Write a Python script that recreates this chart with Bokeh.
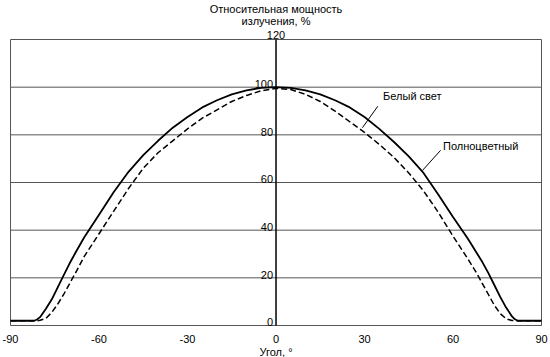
from bokeh.plotting import figure
from bokeh.models import Range1d
from bokeh.core.properties import value
from bokeh.embed import file_html
from bokeh.resources import INLINE

angles = [-90, -85, -82, -81, -80, -78, -76, -74, -72, -70, -68, -65, -60, -55, -50, -45, -40,
          -35, -30, -25, -20, -15, -10, -5, 0, 5, 10, 15, 20, 25, 30, 35, 40, 45, 50, 55,
          60, 65, 68, 70, 72, 74, 76, 78, 80, 81, 82, 85, 90]
full_color = [2, 2, 2, 2.5, 3.5, 7, 11, 16, 21, 26, 30.5, 37, 46.5, 56, 64.5, 71.5, 77.5,
              83, 87.5, 91.5, 94.5, 97, 98.7, 99.7, 100, 99.7, 98.7, 97, 94.5, 91.5, 87.5, 82.5, 77, 71, 64, 55,
              45.5, 36.5, 30.5, 26.5, 22, 17, 12, 7.5, 3.8, 2.6, 2, 2, 2]
white = [2, 2, 2, 2, 2.2, 3, 5.5, 9, 13, 17.5, 22, 29, 38.5, 48, 57.5, 66, 72.5,
         77.5, 82.5, 87, 90.5, 94, 96.5, 98.5, 99.5, 99, 97, 94, 90, 85.5, 81, 76, 70.5, 64, 56.5, 47.5,
         37.5, 28, 22, 17.5, 13, 8.5, 5, 2.8, 2.1, 2, 2, 2, 2]

x_ticks = [-90, -60, -30, 0, 30, 60, 90]
x_tick_labels = ["-90", "-60", "-30", "0", "30", "60", "90"]
y_ticks = [0, 20, 40, 60, 80, 100]
y_tick_labels = ["0", "20", "40", "60", "80", "100"]
y_top = 120
title_lines = ["Относительная мощность", "излучения, %"]
x_title = "Угол, °"
series_names = ["Белый свет", "Полноцветный"]

FONT = value("Liberation Sans")
FS = value("11px")
TXT = "#000000"
GRID = "#555555"

X0, X1 = -90, 90
# whole canvas is the plotting area; the chart box spans -90..90 x 0..120
p = figure(width=550, height=357, output_backend="svg", toolbar_location=None,
           x_axis_location=None, y_axis_location=None, title=None,
           x_range=Range1d(-93.4, 93.05), y_range=Range1d(-13.43, 136.37),
           min_border=0)
p.outline_line_color = None
p.grid.visible = False
p.background_fill_color = "white"
p.border_fill_color = "white"

# frame box and horizontal rules
h_levels = y_ticks + [y_top]
p.segment(x0=[X0] * len(h_levels), x1=[X1] * len(h_levels), y0=h_levels, y1=h_levels,
          line_color=GRID, line_width=1)
p.segment(x0=[X0, X1], x1=[X0, X1], y0=[0, 0], y1=[y_top, y_top], line_color=GRID, line_width=1)
p.segment(x0=[0], x1=[0], y0=[0], y1=[y_top], line_color="black", line_width=1.5)

p.line(angles, full_color, line_color="black", line_width=1.8)
p.line(angles, white, line_color="black", line_width=1.5, line_dash="6 3")

# y tick labels beside the central axis
p.text(x=[0] * len(y_ticks), y=[v - 0.3 for v in y_ticks], text=y_tick_labels, x_offset=-3,
       text_align="right", text_baseline="bottom",
       text_font=FONT, text_font_size=FS, text_color=TXT)
p.text(x=[0], y=[y_top + 0.3], text=[str(y_top)], text_align="center", text_baseline="bottom",
       text_font=FONT, text_font_size=FS, text_color=TXT)

# x tick labels and axis title
p.text(x=x_ticks, y=[-5.5] * len(x_ticks), text=x_tick_labels,
       text_align="center", text_baseline="middle",
       text_font=FONT, text_font_size=FS, text_color=TXT)
p.text(x=[0], y=[-11.0], text=[x_title], text_align="center", text_baseline="middle",
       text_font=FONT, text_font_size=FS, text_color=TXT)

# title (two lines)
p.text(x=[0, 0], y=[133.0, 127.6], text=title_lines, text_align="center", text_baseline="middle",
       text_font=FONT, text_font_size=FS, text_color=TXT)

# series annotations with leader lines
p.text(x=[36.3, 56.6], y=[96.5, 75.5], text=series_names, text_align="left", text_baseline="middle",
       text_font=FONT, text_font_size=FS, text_color=TXT)
p.segment(x0=[34.5, 55.8], y0=[92, 73.5], x1=[29.3, 49.6], y1=[83, 65],
          line_color="black", line_width=1)

open("out.html", "w").write(file_html(p, INLINE))
